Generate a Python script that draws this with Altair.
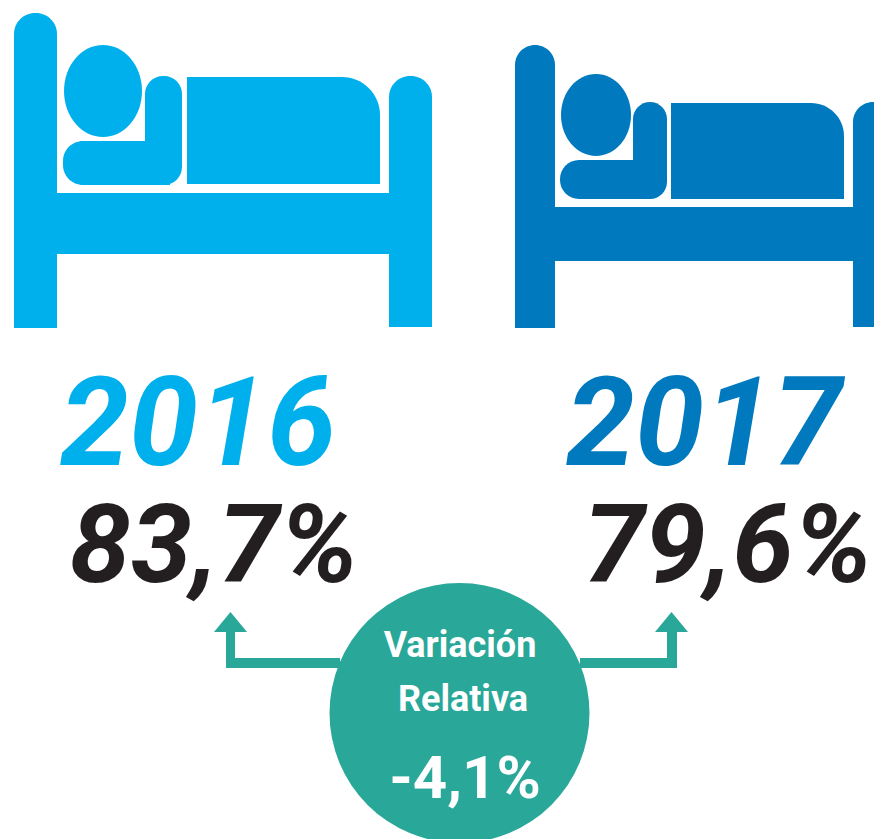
import altair as alt
import pandas as pd

LIGHT = "#00B0ED"
DARK = "#0079BE"
TEAL = "#29A89A"
INK = "#231F20"
FONT = "Roboto"

X = alt.Scale(domain=[8, 874], nice=False, zero=False)
Y = alt.Scale(domain=[8, 839], reverse=True, nice=False, zero=False)


def rects(rows, color, **corners):
    df = pd.DataFrame(rows, columns=["x", "x2", "y", "y2"])
    return alt.Chart(df).mark_rect(color=color, clip=True, **corners).encode(
        x=alt.X("x:Q", scale=X, axis=None),
        x2="x2:Q",
        y=alt.Y("y:Q", scale=Y, axis=None),
        y2="y2:Q",
    )


def blob(cx, cy, color, shape, size):
    df = pd.DataFrame({"x": [cx], "y": [cy]})
    return alt.Chart(df).mark_point(
        filled=True, opacity=1, color=color, shape=shape, size=size, clip=True
    ).encode(
        x=alt.X("x:Q", scale=X, axis=None),
        y=alt.Y("y:Q", scale=Y, axis=None),
    )


def text(rows, color, size, weight="bold", style="normal"):
    df = pd.DataFrame(rows, columns=["x", "y", "t"])
    return alt.Chart(df).mark_text(
        color=color, font=FONT, fontSize=size, fontWeight=weight, fontStyle=style,
        align="center", baseline="alphabetic",
    ).encode(
        x=alt.X("x:Q", scale=X, axis=None),
        y=alt.Y("y:Q", scale=Y, axis=None),
        text="t:N",
    )


def ellipse(ratio):
    return f"M0,-{ratio} A1,{ratio} 0 1 1 0,{ratio} A1,{ratio} 0 1 1 0,-{ratio} Z"


ARROW = "M0,-0.6 L1,0.6 L-1,0.6 Z"

layers = [
    # 2016 bed
    rects([[14, 57, 13, 328], [389, 432, 76, 327]], LIGHT, cornerRadiusTopLeft=21, cornerRadiusTopRight=21),
    rects([[56, 390, 193, 254]], LIGHT),
    rects([[63, 170, 141, 185]], LIGHT, cornerRadiusTopLeft=20, cornerRadiusBottomLeft=20),
    rects([[145, 182, 76, 185]], LIGHT, cornerRadius=18),
    rects([[187, 380, 77, 184]], LIGHT, cornerRadiusTopRight=38),
    blob(103, 91, LIGHT, ellipse(1.18), 6084),
    # 2017 bed
    rects([[515, 555, 45, 328], [853, 893, 102, 327]], DARK, cornerRadiusTopLeft=20, cornerRadiusTopRight=20),
    rects([[554, 854, 207, 261]], DARK),
    rects([[560, 650, 160, 199]], DARK, cornerRadiusTopLeft=19, cornerRadiusBottomLeft=19),
    rects([[633, 667, 102, 199]], DARK, cornerRadius=17),
    rects([[671, 844, 103, 199]], DARK, cornerRadiusTopRight=33),
    blob(596, 115, DARK, ellipse(1.17), 4900),
    # Arrows and circle
    rects([[226, 340, 658, 668], [226, 235, 632, 668], [580, 677, 658, 668], [667, 677, 632, 668]], TEAL),
    blob(230.5, 622, TEAL, ARROW, 1089),
    blob(671.5, 622, TEAL, ARROW, 1089),
    blob(459.5, 713, TEAL, "circle", 67600),
    # Text
    text([[198, 465, "2016"]], LIGHT, 124, "bold", "italic"),
    text([[704, 465, "2017"]], DARK, 124, "bold", "italic"),
    text([[214, 582, "83,7%"]], INK, 110, "bold", "italic"),
    text([[728, 582, "79,6%"]], INK, 110, "bold", "italic"),
    text([[460, 657, "Variación"]], "white", 36),
    text([[463, 711, "Relativa"]], "white", 36),
    text([[465, 798, "-4,1%"]], "white", 60),
]

chart = alt.layer(*layers).properties(
    width=866, height=831, padding=0, autosize=alt.AutoSizeParams(type="none")
).configure_view(stroke=None)

chart.save("out.html", embed_options={"renderer": "svg", "actions": False})
